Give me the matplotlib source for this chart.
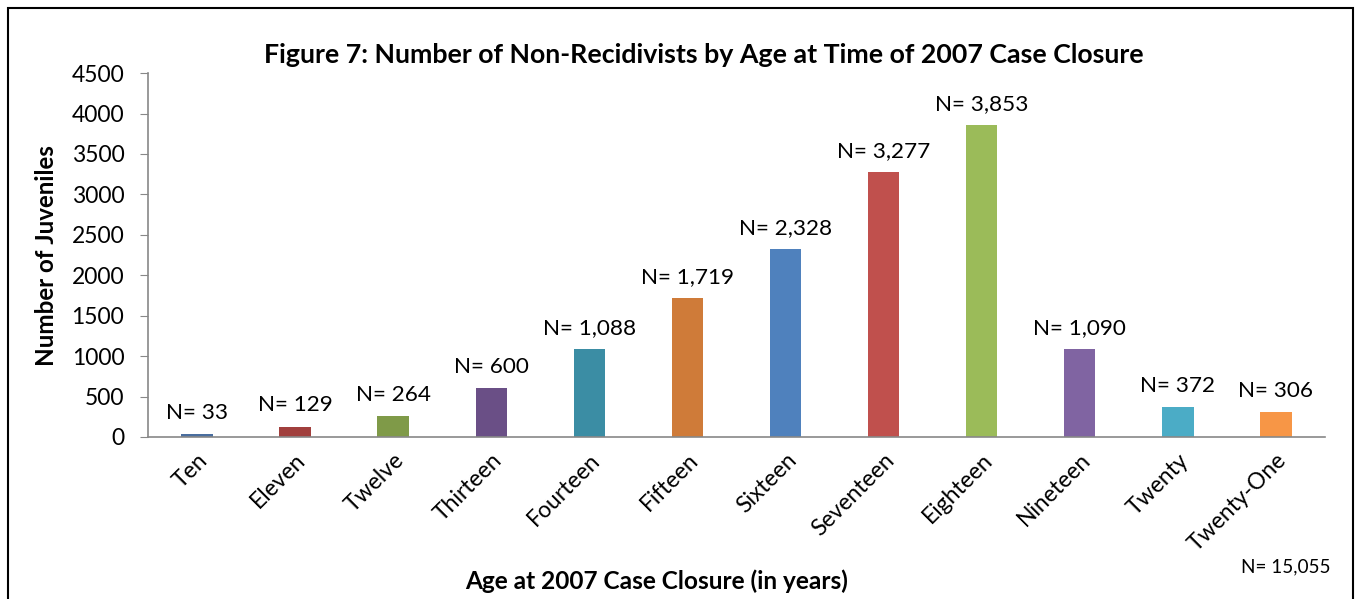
import matplotlib
matplotlib.use("Agg")
import matplotlib.pyplot as plt
from matplotlib.patches import Rectangle

ages = ["Ten", "Eleven", "Twelve", "Thirteen", "Fourteen", "Fifteen",
        "Sixteen", "Seventeen", "Eighteen", "Nineteen", "Twenty", "Twenty-One"]
counts = [33, 129, 264, 600, 1088, 1719, 2328, 3277, 3853, 1090, 372, 306]
bar_colors = ["#4A6E9F", "#A13F3D", "#7F9A48", "#6A4F86", "#3B8DA4", "#CF7B39",
              "#4F81BD", "#C0504D", "#9BBB59", "#8064A2", "#4BACC6", "#F79646"]
yticks = [0, 500, 1000, 1500, 2000, 2500, 3000, 3500, 4000, 4500]
total_label = "N= 15,055"

plt.rcParams['font.family'] = ['Lato', 'DejaVu Sans']

fig = plt.figure(figsize=(13.61, 5.99), dpi=100)
ax = fig.add_axes([0.1087, 0.2705, 0.8648, 0.6075])

x = range(len(ages))
ax.bar(x, counts, width=0.32, color=bar_colors)
for xi, v in zip(x, counts):
    ax.annotate(f"N= {v:,}", (xi, v), xytext=(0, 8), textcoords="offset points",
                ha="center", va="bottom", fontsize=16.2)

ax.set_xlim(-0.5, len(ages) - 0.5)
ax.set_ylim(0, 4500)
ax.set_yticks(yticks)
ax.set_yticklabels([str(t) for t in yticks], fontsize=16.5)
ax.set_xticks(list(x))
ax.set_xticklabels(ages, fontsize=16.5, rotation=45, ha="right", va="top",
                   rotation_mode="anchor")
ax.tick_params(axis="x", length=0, pad=9)
ax.tick_params(axis="y", length=6, color="#888888", pad=11)
for side in ["top", "right"]:
    ax.spines[side].set_visible(False)
for side in ["left", "bottom"]:
    ax.spines[side].set_color("#888888")
    ax.spines[side].set_linewidth(1.2)

fig.text(0.5173, 0.908, "Figure 7: Number of Non-Recidivists by Age at Time of 2007 Case Closure",
         ha="center", va="center", fontsize=19.3, fontweight="bold")
fig.text(0.034, 0.574, "Number of Juveniles", rotation=90, ha="center", va="center",
         fontsize=17.4, fontweight="bold")
fig.text(0.4827, 0.030, "Age at 2007 Case Closure (in years)", ha="center", va="center",
         fontsize=17.6, fontweight="bold")
fig.text(0.9775, 0.053, total_label, ha="right", va="center", fontsize=13.6)

fig.patches.append(Rectangle((8 / 1361, -0.05), 1345 / 1361, 1.05 - 8 / 599,
                             transform=fig.transFigure, fill=False,
                             edgecolor="black", linewidth=1.5))

fig.savefig("out.png", dpi=100)
